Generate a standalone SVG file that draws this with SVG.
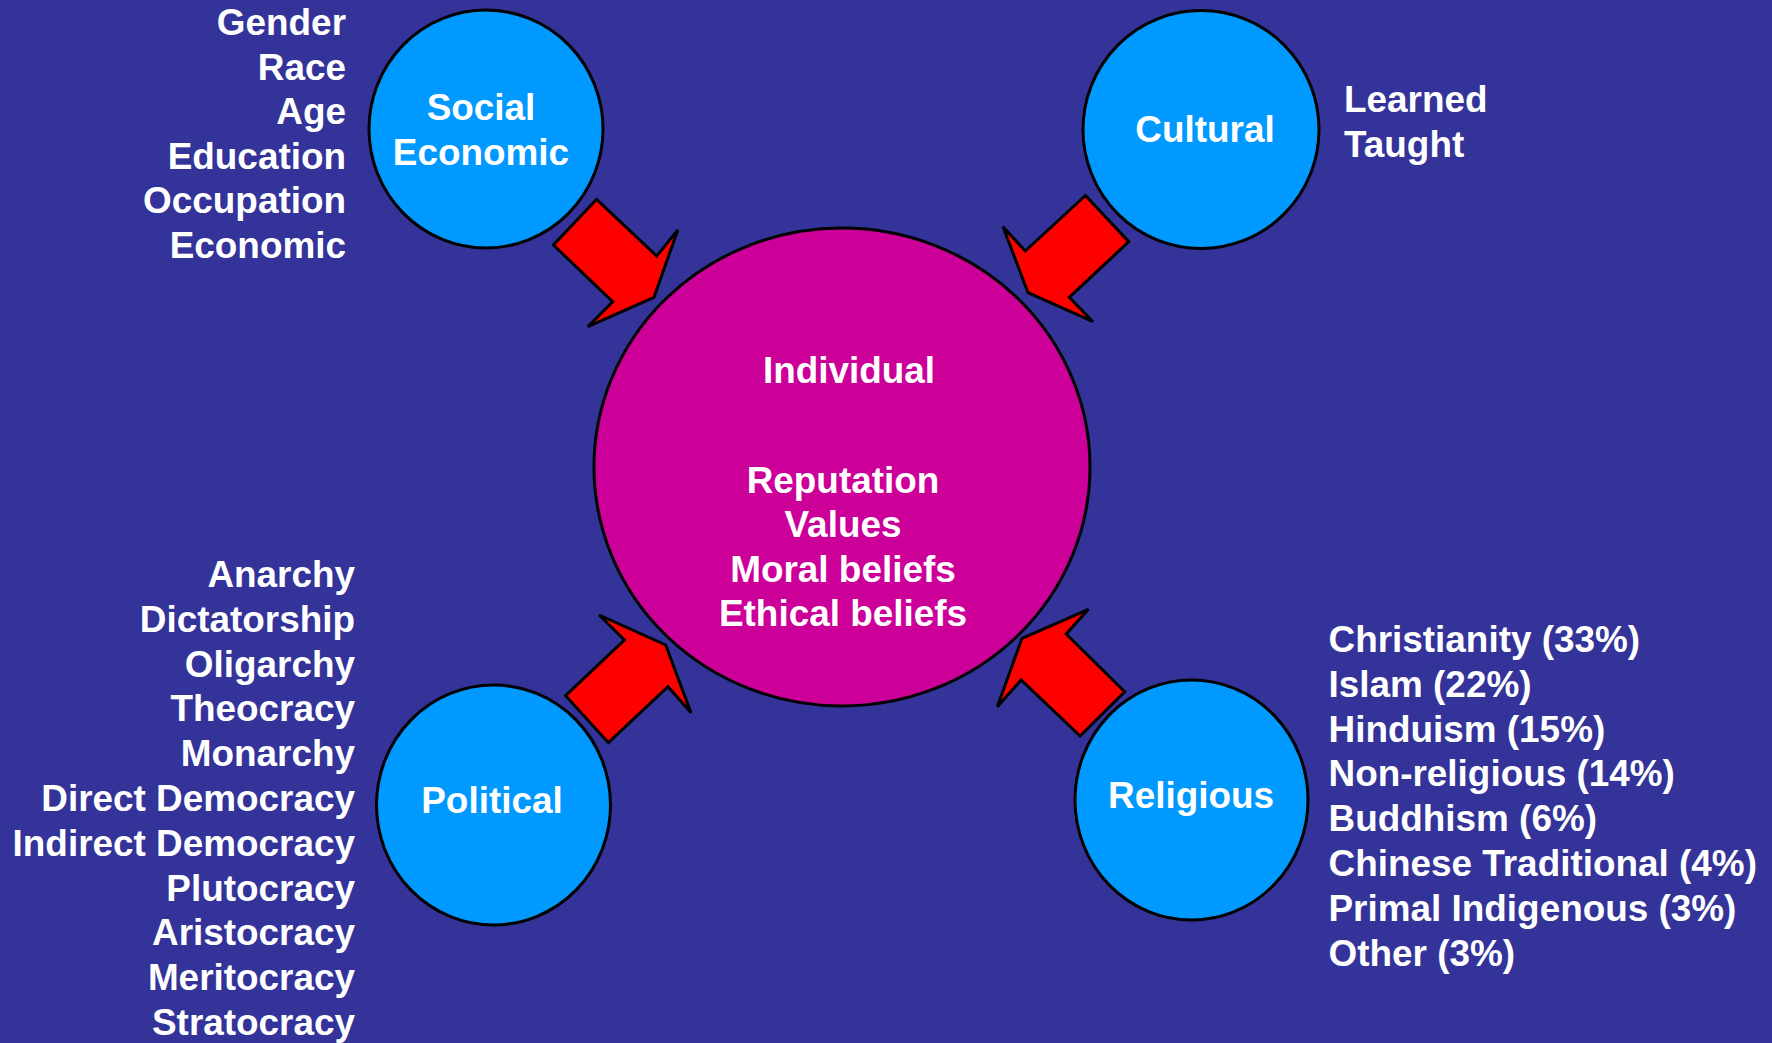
<svg xmlns="http://www.w3.org/2000/svg" width="1772" height="1043" viewBox="0 0 1772 1043">
<style>
text { font-family: "Liberation Sans", Arial, sans-serif; font-weight: bold; font-size: 36.9px; fill: #FFFFFF; }
.r { text-anchor: end; }
.c { text-anchor: middle; }
.node { fill: #0099FF; stroke: #000000; stroke-width: 3; }
.center { fill: #CC0099; stroke: #000000; stroke-width: 3; }
.arrow { fill: #FF0000; stroke: #000000; stroke-width: 3; stroke-linejoin: miter; }
</style>
<rect x="0" y="0" width="1772" height="1043" fill="#333399"/>
<g id="connectors">
<polygon class="arrow" points="596.6,199.3 656.7,256 677.8,230 654,297.3 587.8,326.7 612.7,301.7 553.4,245"/>
<polygon class="arrow" points="1085.4,195.5 1128.8,241.7 1069.3,297.3 1093,321.7 1028,292.7 1003,226.7 1025.3,251"/>
<polygon class="arrow" points="599.2,615 665.7,645 691,712.7 668,686.7 608.4,742.7 565.6,695.7 624.4,640"/>
<polygon class="arrow" points="1088.4,609.3 1066.2,634 1124.7,691.7 1080.1,736 1021.1,680 997.3,706.7 1022,638.3"/>
</g>
<g id="individual">
<ellipse class="center" cx="842" cy="467" rx="248" ry="239"/>
<text class="c" x="849" y="383">Individual</text>
<text class="c" x="843" y="492.5">Reputation</text>
<text class="c" x="843" y="537">Values</text>
<text class="c" x="843" y="581.5">Moral beliefs</text>
<text class="c" x="843" y="626">Ethical beliefs</text>
</g>
<g id="social-economic">
<ellipse class="node" cx="486" cy="129" rx="117" ry="119"/>
<text class="c" x="481" y="120">Social</text>
<text class="c" x="481" y="165">Economic</text>
</g>
<g id="social-list">
<text class="r" x="346" y="35">Gender</text>
<text class="r" x="346" y="79.5">Race</text>
<text class="r" x="346" y="124">Age</text>
<text class="r" x="346" y="168.5">Education</text>
<text class="r" x="346" y="213">Occupation</text>
<text class="r" x="346" y="258">Economic</text>
</g>
<g id="cultural">
<ellipse class="node" cx="1201" cy="129.5" rx="118" ry="119"/>
<text class="c" x="1205" y="141.5">Cultural</text>
</g>
<g id="cultural-list">
<text x="1344" y="111.5">Learned</text>
<text x="1344" y="156.5">Taught</text>
</g>
<g id="political">
<ellipse class="node" cx="493.5" cy="805" rx="117" ry="120"/>
<text class="c" x="492" y="813">Political</text>
</g>
<g id="political-list">
<text class="r" x="355" y="587">Anarchy</text>
<text class="r" x="355" y="631.8">Dictatorship</text>
<text class="r" x="355" y="676.6">Oligarchy</text>
<text class="r" x="355" y="721.4">Theocracy</text>
<text class="r" x="355" y="766.2">Monarchy</text>
<text class="r" x="355" y="811">Direct Democracy</text>
<text class="r" x="355" y="855.8">Indirect Democracy</text>
<text class="r" x="355" y="900.6">Plutocracy</text>
<text class="r" x="355" y="945.4">Aristocracy</text>
<text class="r" x="355" y="990.2">Meritocracy</text>
<text class="r" x="355" y="1035">Stratocracy</text>
</g>
<g id="religious">
<ellipse class="node" cx="1191.5" cy="800" rx="116.5" ry="120"/>
<text class="c" x="1191" y="808">Religious</text>
</g>
<g id="religious-list">
<text x="1328.5" y="652">Christianity (33%)</text>
<text x="1328.5" y="696.8">Islam (22%)</text>
<text x="1328.5" y="741.6">Hinduism (15%)</text>
<text x="1328.5" y="786.4">Non-religious (14%)</text>
<text x="1328.5" y="831.2">Buddhism (6%)</text>
<text x="1328.5" y="876">Chinese Traditional (4%)</text>
<text x="1328.5" y="920.8">Primal Indigenous (3%)</text>
<text x="1328.5" y="965.6">Other (3%)</text>
</g>
</svg>
